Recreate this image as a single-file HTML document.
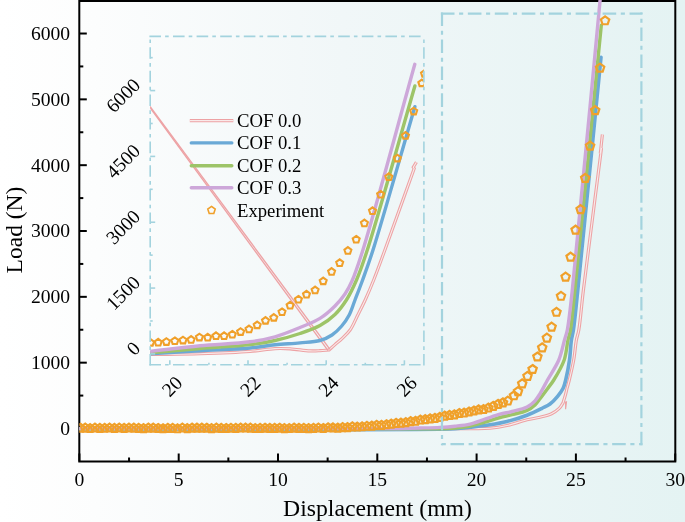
<!DOCTYPE html><html><head><meta charset="utf-8"><style>html,body{margin:0;padding:0;background:#fff;}svg{display:block;will-change:transform;}text{font-family:"Liberation Serif",serif;fill:#000;}</style></head><body>
<svg width="685" height="522" viewBox="0 0 685 522">
<defs>
<linearGradient id="bg" x1="0" y1="0" x2="685" y2="0" gradientUnits="userSpaceOnUse">
<stop offset="0" stop-color="#ffffff"/><stop offset="0.14" stop-color="#fcfdfd"/><stop offset="0.5" stop-color="#f1f7f8"/><stop offset="1" stop-color="#e4f3f3"/>
</linearGradient>
<clipPath id="clipInset"><rect x="150.2" y="36.4" width="273.7" height="328.2"/></clipPath>
<clipPath id="clipMain"><rect x="79.3" y="0" width="595.8" height="461.5"/></clipPath>
</defs>
<rect x="0" y="0" width="685" height="522" fill="url(#bg)"/>
<g stroke="#000" stroke-width="2" fill="none">
<rect x="79.30" y="1.00" width="596.00" height="460.50"/>
<line x1="79.30" y1="428.50" x2="86.80" y2="428.50"/>
<line x1="79.30" y1="395.58" x2="83.30" y2="395.58"/>
<line x1="79.30" y1="362.67" x2="86.80" y2="362.67"/>
<line x1="79.30" y1="329.75" x2="83.30" y2="329.75"/>
<line x1="79.30" y1="296.84" x2="86.80" y2="296.84"/>
<line x1="79.30" y1="263.93" x2="83.30" y2="263.93"/>
<line x1="79.30" y1="231.01" x2="86.80" y2="231.01"/>
<line x1="79.30" y1="198.09" x2="83.30" y2="198.09"/>
<line x1="79.30" y1="165.18" x2="86.80" y2="165.18"/>
<line x1="79.30" y1="132.26" x2="83.30" y2="132.26"/>
<line x1="79.30" y1="99.35" x2="86.80" y2="99.35"/>
<line x1="79.30" y1="66.44" x2="83.30" y2="66.44"/>
<line x1="79.30" y1="33.52" x2="86.80" y2="33.52"/>
<line x1="79.30" y1="0.61" x2="83.30" y2="0.61"/>
<line x1="79.40" y1="461.50" x2="79.40" y2="453.50"/>
<line x1="129.05" y1="461.50" x2="129.05" y2="457.50"/>
<line x1="178.70" y1="461.50" x2="178.70" y2="453.50"/>
<line x1="228.35" y1="461.50" x2="228.35" y2="457.50"/>
<line x1="278.00" y1="461.50" x2="278.00" y2="453.50"/>
<line x1="327.65" y1="461.50" x2="327.65" y2="457.50"/>
<line x1="377.30" y1="461.50" x2="377.30" y2="453.50"/>
<line x1="426.95" y1="461.50" x2="426.95" y2="457.50"/>
<line x1="476.60" y1="461.50" x2="476.60" y2="453.50"/>
<line x1="526.25" y1="461.50" x2="526.25" y2="457.50"/>
<line x1="575.90" y1="461.50" x2="575.90" y2="453.50"/>
<line x1="625.55" y1="461.50" x2="625.55" y2="457.50"/>
<line x1="675.20" y1="461.50" x2="675.20" y2="453.50"/>
</g>
<g clip-path="url(#clipMain)">
<path d="M79.40,429.00 C209.60,428.90 421.95,429.32 470.00,428.70 C480.87,428.56 483.62,428.78 490.00,428.20 C495.92,427.66 501.14,426.79 507.00,425.50 C513.44,424.08 521.02,421.25 527.00,419.80 C531.77,418.64 535.82,418.25 540.00,417.20 C543.98,416.20 548.16,415.31 551.50,413.70 C554.45,412.28 557.21,410.37 559.20,408.40 C560.87,406.74 561.73,404.80 563.00,403.00 L563.00,403.00 C563.77,400.43 564.60,397.87 565.30,395.30 C565.99,392.77 566.54,390.24 567.20,387.70 C567.87,385.14 568.52,383.18 569.30,380.00 C570.55,374.91 572.51,366.69 573.70,360.00 C574.88,353.36 575.37,345.50 576.40,340.00 C577.13,336.07 578.01,334.48 578.80,330.00 C580.37,321.14 581.29,307.41 583.40,290.00 C587.38,257.17 595.47,195.33 601.50,148.00 L600.3,153.5 L602.4,134.5" fill="none" stroke="#eda2a4" stroke-width="3.20" stroke-linejoin="miter" stroke-miterlimit="3"/><path d="M79.40,429.00 C209.60,428.90 421.95,429.32 470.00,428.70 C480.87,428.56 483.62,428.78 490.00,428.20 C495.92,427.66 501.14,426.79 507.00,425.50 C513.44,424.08 521.02,421.25 527.00,419.80 C531.77,418.64 535.82,418.25 540.00,417.20 C543.98,416.20 548.16,415.31 551.50,413.70 C554.45,412.28 557.21,410.37 559.20,408.40 C560.87,406.74 561.73,404.80 563.00,403.00 L563.00,403.00 C563.77,400.43 564.60,397.87 565.30,395.30 C565.99,392.77 566.54,390.24 567.20,387.70 C567.87,385.14 568.52,383.18 569.30,380.00 C570.55,374.91 572.51,366.69 573.70,360.00 C574.88,353.36 575.37,345.50 576.40,340.00 C577.13,336.07 578.01,334.48 578.80,330.00 C580.37,321.14 581.29,307.41 583.40,290.00 C587.38,257.17 595.47,195.33 601.50,148.00 L600.3,153.5 L602.4,134.5" fill="none" stroke="#f9eaea" stroke-width="1.10" stroke-linejoin="miter" stroke-miterlimit="3"/>
<path d="M79.40,428.80 C204.60,428.80 413.31,430.88 455.00,428.80 C463.35,428.38 464.64,427.90 470.00,427.30 C476.19,426.60 483.62,425.82 490.00,424.80 C495.91,423.86 501.15,422.98 507.00,421.50 C513.44,419.87 520.88,417.56 527.00,415.20 C532.43,413.11 537.81,410.39 542.00,408.30 C545.11,406.75 547.50,405.87 550.00,404.00 C552.73,401.96 555.38,398.98 557.60,396.30 C559.68,393.80 561.64,391.26 563.00,388.50 C564.32,385.82 564.82,383.46 565.70,380.00 C567.02,374.77 568.55,366.69 569.50,360.00 C570.44,353.36 570.59,345.51 571.40,340.00 C571.98,336.08 572.71,334.46 573.40,330.00 C574.77,321.13 575.82,308.86 577.80,290.00 C582.57,244.55 593.27,134.93 601.00,57.40" fill="none" stroke="#6aa9d6" stroke-width="3.6" stroke-linecap="round"/>
<path d="M79.40,428.70 C199.60,428.70 399.28,429.65 440.00,428.70 C448.31,428.51 450.01,428.43 455.00,428.00 C460.01,427.57 465.03,427.09 470.00,426.10 C475.04,425.10 480.01,423.43 485.00,422.00 C490.01,420.56 495.26,418.76 500.00,417.50 C504.20,416.38 507.79,415.79 512.00,414.70 C516.74,413.47 522.91,412.33 527.00,410.40 C530.23,408.88 532.75,407.00 535.00,404.90 C537.09,402.96 538.33,400.82 540.20,398.40 C542.49,395.44 545.34,391.60 547.70,388.40 C549.85,385.49 551.64,383.50 553.80,380.00 C556.99,374.85 561.83,366.85 564.20,360.00 C566.45,353.49 566.79,345.51 568.00,340.00 C568.86,336.08 569.70,334.48 570.50,330.00 C572.09,321.15 572.89,309.21 574.90,290.00 C580.08,240.61 592.50,113.53 601.30,25.30" fill="none" stroke="#9dc468" stroke-width="3.4" stroke-linecap="round"/>
<path d="M79.40,428.50 C179.60,428.53 326.44,428.99 380.00,428.60 C399.54,428.46 408.96,428.25 420.00,428.00 C427.81,427.82 433.82,427.74 440.00,427.40 C445.36,427.11 450.01,426.75 455.00,426.20 C460.01,425.65 465.05,425.25 470.00,424.10 C475.05,422.93 480.00,420.85 485.00,419.20 C490.00,417.55 495.25,415.52 500.00,414.20 C504.19,413.03 507.80,412.60 512.00,411.50 C516.74,410.26 522.93,409.09 527.00,407.00 C530.27,405.32 532.76,403.15 535.00,400.80 C537.12,398.58 538.41,396.29 540.20,393.40 C542.53,389.65 544.78,384.90 547.50,380.00 C550.84,373.99 555.94,366.84 558.80,360.00 C561.52,353.49 562.94,345.52 564.50,340.00 C565.60,336.10 566.40,334.49 567.30,330.00 C569.08,321.15 570.15,309.47 572.30,290.00 C578.08,237.67 590.83,96.67 600.10,0.00" fill="none" stroke="#cda7d9" stroke-width="3.4" stroke-linecap="round"/>
<polygon points="80.40,423.76 84.58,426.80 82.99,431.72 77.81,431.72 76.22,426.80" fill="none" stroke="#f0a02a" stroke-width="2.2" stroke-linejoin="miter"/>
<polygon points="85.26,423.62 89.44,426.66 87.84,431.58 82.67,431.58 81.07,426.66" fill="none" stroke="#f0a02a" stroke-width="2.2" stroke-linejoin="miter"/>
<polygon points="90.11,424.02 94.30,427.06 92.70,431.98 87.53,431.98 85.93,427.06" fill="none" stroke="#f0a02a" stroke-width="2.2" stroke-linejoin="miter"/>
<polygon points="94.97,423.56 99.16,426.60 97.56,431.52 92.38,431.52 90.79,426.60" fill="none" stroke="#f0a02a" stroke-width="2.2" stroke-linejoin="miter"/>
<polygon points="99.83,423.93 104.01,426.97 102.41,431.89 97.24,431.89 95.64,426.97" fill="none" stroke="#f0a02a" stroke-width="2.2" stroke-linejoin="miter"/>
<polygon points="104.69,423.79 108.87,426.83 107.27,431.75 102.10,431.75 100.50,426.83" fill="none" stroke="#f0a02a" stroke-width="2.2" stroke-linejoin="miter"/>
<polygon points="109.54,423.55 113.73,426.59 112.13,431.51 106.96,431.51 105.36,426.59" fill="none" stroke="#f0a02a" stroke-width="2.2" stroke-linejoin="miter"/>
<polygon points="114.40,423.91 118.58,426.95 116.99,431.87 111.81,431.87 110.21,426.95" fill="none" stroke="#f0a02a" stroke-width="2.2" stroke-linejoin="miter"/>
<polygon points="119.26,423.53 123.44,426.57 121.84,431.49 116.67,431.49 115.07,426.57" fill="none" stroke="#f0a02a" stroke-width="2.2" stroke-linejoin="miter"/>
<polygon points="124.11,423.85 128.30,426.89 126.70,431.81 121.53,431.81 119.93,426.89" fill="none" stroke="#f0a02a" stroke-width="2.2" stroke-linejoin="miter"/>
<polygon points="128.97,423.56 133.15,426.60 131.56,431.52 126.38,431.52 124.79,426.60" fill="none" stroke="#f0a02a" stroke-width="2.2" stroke-linejoin="miter"/>
<polygon points="133.83,423.57 138.01,426.61 136.41,431.53 131.24,431.53 129.64,426.61" fill="none" stroke="#f0a02a" stroke-width="2.2" stroke-linejoin="miter"/>
<polygon points="138.68,423.84 142.87,426.88 141.27,431.80 136.10,431.80 134.50,426.88" fill="none" stroke="#f0a02a" stroke-width="2.2" stroke-linejoin="miter"/>
<polygon points="143.54,424.16 147.73,427.20 146.13,432.12 140.95,432.12 139.36,427.20" fill="none" stroke="#f0a02a" stroke-width="2.2" stroke-linejoin="miter"/>
<polygon points="148.40,423.60 152.58,426.64 150.98,431.56 145.81,431.56 144.21,426.64" fill="none" stroke="#f0a02a" stroke-width="2.2" stroke-linejoin="miter"/>
<polygon points="153.25,423.68 157.44,426.72 155.84,431.64 150.67,431.64 149.07,426.72" fill="none" stroke="#f0a02a" stroke-width="2.2" stroke-linejoin="miter"/>
<polygon points="158.11,424.00 162.30,427.04 160.70,431.96 155.53,431.96 153.93,427.04" fill="none" stroke="#f0a02a" stroke-width="2.2" stroke-linejoin="miter"/>
<polygon points="162.97,424.26 167.15,427.30 165.56,432.22 160.38,432.22 158.78,427.30" fill="none" stroke="#f0a02a" stroke-width="2.2" stroke-linejoin="miter"/>
<polygon points="167.83,423.96 172.01,427.00 170.41,431.92 165.24,431.92 163.64,427.00" fill="none" stroke="#f0a02a" stroke-width="2.2" stroke-linejoin="miter"/>
<polygon points="172.68,423.82 176.87,426.86 175.27,431.78 170.10,431.78 168.50,426.86" fill="none" stroke="#f0a02a" stroke-width="2.2" stroke-linejoin="miter"/>
<polygon points="177.54,424.28 181.72,427.32 180.13,432.24 174.95,432.24 173.36,427.32" fill="none" stroke="#f0a02a" stroke-width="2.2" stroke-linejoin="miter"/>
<polygon points="182.40,423.54 186.58,426.58 184.98,431.50 179.81,431.50 178.21,426.58" fill="none" stroke="#f0a02a" stroke-width="2.2" stroke-linejoin="miter"/>
<polygon points="187.25,424.19 191.44,427.23 189.84,432.15 184.67,432.15 183.07,427.23" fill="none" stroke="#f0a02a" stroke-width="2.2" stroke-linejoin="miter"/>
<polygon points="192.11,423.73 196.30,426.77 194.70,431.69 189.52,431.69 187.93,426.77" fill="none" stroke="#f0a02a" stroke-width="2.2" stroke-linejoin="miter"/>
<polygon points="196.97,423.62 201.15,426.66 199.55,431.58 194.38,431.58 192.78,426.66" fill="none" stroke="#f0a02a" stroke-width="2.2" stroke-linejoin="miter"/>
<polygon points="201.83,423.59 206.01,426.63 204.41,431.55 199.24,431.55 197.64,426.63" fill="none" stroke="#f0a02a" stroke-width="2.2" stroke-linejoin="miter"/>
<polygon points="206.68,423.75 210.87,426.79 209.27,431.71 204.10,431.71 202.50,426.79" fill="none" stroke="#f0a02a" stroke-width="2.2" stroke-linejoin="miter"/>
<polygon points="211.54,424.15 215.72,427.19 214.13,432.11 208.95,432.11 207.35,427.19" fill="none" stroke="#f0a02a" stroke-width="2.2" stroke-linejoin="miter"/>
<polygon points="216.40,423.64 220.58,426.68 218.98,431.60 213.81,431.60 212.21,426.68" fill="none" stroke="#f0a02a" stroke-width="2.2" stroke-linejoin="miter"/>
<polygon points="221.25,423.97 225.44,427.01 223.84,431.92 218.67,431.92 217.07,427.01" fill="none" stroke="#f0a02a" stroke-width="2.2" stroke-linejoin="miter"/>
<polygon points="226.11,424.01 230.29,427.05 228.70,431.97 223.52,431.97 221.93,427.05" fill="none" stroke="#f0a02a" stroke-width="2.2" stroke-linejoin="miter"/>
<polygon points="230.97,423.80 235.15,426.84 233.55,431.76 228.38,431.76 226.78,426.84" fill="none" stroke="#f0a02a" stroke-width="2.2" stroke-linejoin="miter"/>
<polygon points="235.82,423.94 240.01,426.98 238.41,431.90 233.24,431.90 231.64,426.98" fill="none" stroke="#f0a02a" stroke-width="2.2" stroke-linejoin="miter"/>
<polygon points="240.68,423.55 244.87,426.59 243.27,431.51 238.09,431.51 236.50,426.59" fill="none" stroke="#f0a02a" stroke-width="2.2" stroke-linejoin="miter"/>
<polygon points="245.54,423.55 249.72,426.59 248.12,431.51 242.95,431.51 241.35,426.59" fill="none" stroke="#f0a02a" stroke-width="2.2" stroke-linejoin="miter"/>
<polygon points="250.40,423.66 254.58,426.71 252.98,431.62 247.81,431.62 246.21,426.71" fill="none" stroke="#f0a02a" stroke-width="2.2" stroke-linejoin="miter"/>
<polygon points="255.25,424.04 259.44,427.08 257.84,432.00 252.67,432.00 251.07,427.08" fill="none" stroke="#f0a02a" stroke-width="2.2" stroke-linejoin="miter"/>
<polygon points="260.11,423.84 264.29,426.88 262.70,431.80 257.52,431.80 255.92,426.88" fill="none" stroke="#f0a02a" stroke-width="2.2" stroke-linejoin="miter"/>
<polygon points="264.97,423.75 269.15,426.79 267.55,431.71 262.38,431.71 260.78,426.79" fill="none" stroke="#f0a02a" stroke-width="2.2" stroke-linejoin="miter"/>
<polygon points="269.82,423.97 274.01,427.01 272.41,431.93 267.24,431.93 265.64,427.01" fill="none" stroke="#f0a02a" stroke-width="2.2" stroke-linejoin="miter"/>
<polygon points="274.68,423.86 278.86,426.90 277.27,431.82 272.09,431.82 270.50,426.90" fill="none" stroke="#f0a02a" stroke-width="2.2" stroke-linejoin="miter"/>
<polygon points="279.54,423.74 283.72,426.78 282.12,431.70 276.95,431.70 275.35,426.78" fill="none" stroke="#f0a02a" stroke-width="2.2" stroke-linejoin="miter"/>
<polygon points="284.39,424.14 288.58,427.18 286.98,432.10 281.81,432.10 280.21,427.18" fill="none" stroke="#f0a02a" stroke-width="2.2" stroke-linejoin="miter"/>
<polygon points="289.25,424.06 293.44,427.10 291.84,432.02 286.66,432.02 285.07,427.10" fill="none" stroke="#f0a02a" stroke-width="2.2" stroke-linejoin="miter"/>
<polygon points="294.11,423.70 298.29,426.74 296.69,431.65 291.52,431.65 289.92,426.74" fill="none" stroke="#f0a02a" stroke-width="2.2" stroke-linejoin="miter"/>
<polygon points="298.97,423.96 303.15,427.00 301.55,431.92 296.38,431.92 294.78,427.00" fill="none" stroke="#f0a02a" stroke-width="2.2" stroke-linejoin="miter"/>
<polygon points="303.82,423.88 308.01,426.92 306.41,431.84 301.24,431.84 299.64,426.92" fill="none" stroke="#f0a02a" stroke-width="2.2" stroke-linejoin="miter"/>
<polygon points="308.68,424.10 312.86,427.14 311.27,432.06 306.09,432.06 304.49,427.14" fill="none" stroke="#f0a02a" stroke-width="2.2" stroke-linejoin="miter"/>
<polygon points="313.54,423.93 317.72,426.97 316.12,431.89 310.95,431.89 309.35,426.97" fill="none" stroke="#f0a02a" stroke-width="2.2" stroke-linejoin="miter"/>
<polygon points="318.39,423.52 322.58,426.56 320.98,431.48 315.81,431.48 314.21,426.56" fill="none" stroke="#f0a02a" stroke-width="2.2" stroke-linejoin="miter"/>
<polygon points="323.25,424.01 327.43,427.05 325.84,431.97 320.66,431.97 319.07,427.05" fill="none" stroke="#f0a02a" stroke-width="2.2" stroke-linejoin="miter"/>
<polygon points="328.11,423.27 332.29,426.31 330.69,431.23 325.52,431.23 323.92,426.31" fill="none" stroke="#f0a02a" stroke-width="2.2" stroke-linejoin="miter"/>
<polygon points="332.96,423.45 337.15,426.49 335.55,431.41 330.38,431.41 328.78,426.49" fill="none" stroke="#f0a02a" stroke-width="2.2" stroke-linejoin="miter"/>
<polygon points="337.82,423.67 342.01,426.71 340.41,431.63 335.23,431.63 333.64,426.71" fill="none" stroke="#f0a02a" stroke-width="2.2" stroke-linejoin="miter"/>
<polygon points="342.68,423.13 346.86,426.17 345.26,431.09 340.09,431.09 338.49,426.17" fill="none" stroke="#f0a02a" stroke-width="2.2" stroke-linejoin="miter"/>
<polygon points="347.53,423.07 351.72,426.11 350.12,431.03 344.95,431.03 343.35,426.11" fill="none" stroke="#f0a02a" stroke-width="2.2" stroke-linejoin="miter"/>
<polygon points="352.39,422.37 356.58,425.41 354.98,430.33 349.81,430.33 348.21,425.41" fill="none" stroke="#f0a02a" stroke-width="2.2" stroke-linejoin="miter"/>
<polygon points="357.25,422.54 361.43,425.58 359.84,430.50 354.66,430.50 353.06,425.58" fill="none" stroke="#f0a02a" stroke-width="2.2" stroke-linejoin="miter"/>
<polygon points="362.11,422.27 366.29,425.31 364.69,430.23 359.52,430.23 357.92,425.31" fill="none" stroke="#f0a02a" stroke-width="2.2" stroke-linejoin="miter"/>
<polygon points="366.96,421.78 371.15,424.82 369.55,429.74 364.38,429.74 362.78,424.82" fill="none" stroke="#f0a02a" stroke-width="2.2" stroke-linejoin="miter"/>
<polygon points="371.82,421.68 376.00,424.72 374.41,429.64 369.23,429.64 367.64,424.72" fill="none" stroke="#f0a02a" stroke-width="2.2" stroke-linejoin="miter"/>
<polygon points="376.68,420.89 380.86,423.93 379.26,428.85 374.09,428.85 372.49,423.93" fill="none" stroke="#f0a02a" stroke-width="2.2" stroke-linejoin="miter"/>
<polygon points="381.53,420.86 385.72,423.90 384.12,428.82 378.95,428.82 377.35,423.90" fill="none" stroke="#f0a02a" stroke-width="2.2" stroke-linejoin="miter"/>
<polygon points="386.39,420.26 390.58,423.30 388.98,428.22 383.80,428.22 382.21,423.30" fill="none" stroke="#f0a02a" stroke-width="2.2" stroke-linejoin="miter"/>
<polygon points="391.25,419.66 395.43,422.70 393.83,427.62 388.66,427.62 387.06,422.70" fill="none" stroke="#f0a02a" stroke-width="2.2" stroke-linejoin="miter"/>
<polygon points="396.11,418.98 400.29,422.02 398.69,426.94 393.52,426.94 391.92,422.02" fill="none" stroke="#f0a02a" stroke-width="2.2" stroke-linejoin="miter"/>
<polygon points="400.96,418.69 405.15,421.74 403.55,426.65 398.38,426.65 396.78,421.74" fill="none" stroke="#f0a02a" stroke-width="2.2" stroke-linejoin="miter"/>
<polygon points="405.82,418.19 410.00,421.23 408.41,426.15 403.23,426.15 401.63,421.23" fill="none" stroke="#f0a02a" stroke-width="2.2" stroke-linejoin="miter"/>
<polygon points="410.68,417.22 414.86,420.26 413.26,425.18 408.09,425.18 406.49,420.26" fill="none" stroke="#f0a02a" stroke-width="2.2" stroke-linejoin="miter"/>
<polygon points="415.53,416.79 419.72,419.83 418.12,424.75 412.95,424.75 411.35,419.83" fill="none" stroke="#f0a02a" stroke-width="2.2" stroke-linejoin="miter"/>
<polygon points="420.39,415.52 424.57,418.56 422.98,423.48 417.80,423.48 416.21,418.56" fill="none" stroke="#f0a02a" stroke-width="2.2" stroke-linejoin="miter"/>
<polygon points="425.25,415.22 429.43,418.26 427.83,423.18 422.66,423.18 421.06,418.26" fill="none" stroke="#f0a02a" stroke-width="2.2" stroke-linejoin="miter"/>
<polygon points="430.10,414.37 434.29,417.41 432.69,422.33 427.52,422.33 425.92,417.41" fill="none" stroke="#f0a02a" stroke-width="2.2" stroke-linejoin="miter"/>
<polygon points="434.96,413.83 439.15,416.87 437.55,421.79 432.37,421.79 430.78,416.87" fill="none" stroke="#f0a02a" stroke-width="2.2" stroke-linejoin="miter"/>
<polygon points="439.82,412.89 444.00,415.93 442.40,420.85 437.23,420.85 435.63,415.93" fill="none" stroke="#f0a02a" stroke-width="2.2" stroke-linejoin="miter"/>
<polygon points="444.68,411.65 448.86,414.69 447.26,419.61 442.09,419.61 440.49,414.69" fill="none" stroke="#f0a02a" stroke-width="2.2" stroke-linejoin="miter"/>
<polygon points="449.53,410.92 453.72,413.96 452.12,418.88 446.95,418.88 445.35,413.96" fill="none" stroke="#f0a02a" stroke-width="2.2" stroke-linejoin="miter"/>
<polygon points="454.39,410.34 458.57,413.38 456.98,418.30 451.80,418.30 450.20,413.38" fill="none" stroke="#f0a02a" stroke-width="2.2" stroke-linejoin="miter"/>
<polygon points="459.25,409.01 463.43,412.05 461.83,416.97 456.66,416.97 455.06,412.05" fill="none" stroke="#f0a02a" stroke-width="2.2" stroke-linejoin="miter"/>
<polygon points="464.10,408.55 468.29,411.59 466.69,416.51 461.52,416.51 459.92,411.59" fill="none" stroke="#f0a02a" stroke-width="2.2" stroke-linejoin="miter"/>
<polygon points="468.96,407.51 473.14,410.55 471.55,415.47 466.37,415.47 464.78,410.55" fill="none" stroke="#f0a02a" stroke-width="2.2" stroke-linejoin="miter"/>
<polygon points="473.82,406.51 478.00,409.55 476.40,414.47 471.23,414.47 469.63,409.55" fill="none" stroke="#f0a02a" stroke-width="2.2" stroke-linejoin="miter"/>
<polygon points="478.67,405.47 482.86,408.51 481.26,413.43 476.09,413.43 474.49,408.51" fill="none" stroke="#f0a02a" stroke-width="2.2" stroke-linejoin="miter"/>
<polygon points="483.53,405.04 487.72,408.08 486.12,413.00 480.94,413.00 479.35,408.08" fill="none" stroke="#f0a02a" stroke-width="2.2" stroke-linejoin="miter"/>
<polygon points="488.39,403.53 492.57,406.57 490.97,411.49 485.80,411.49 484.20,406.57" fill="none" stroke="#f0a02a" stroke-width="2.2" stroke-linejoin="miter"/>
<polygon points="493.25,401.87 497.43,404.91 495.83,409.83 490.66,409.83 489.06,404.91" fill="none" stroke="#f0a02a" stroke-width="2.2" stroke-linejoin="miter"/>
<polygon points="498.10,399.85 502.29,402.89 500.69,407.81 495.52,407.81 493.92,402.89" fill="none" stroke="#f0a02a" stroke-width="2.2" stroke-linejoin="miter"/>
<polygon points="502.96,398.42 507.14,401.46 505.55,406.38 500.37,406.38 498.77,401.46" fill="none" stroke="#f0a02a" stroke-width="2.2" stroke-linejoin="miter"/>
<polygon points="507.82,396.52 512.00,399.56 510.40,404.48 505.23,404.48 503.63,399.56" fill="none" stroke="#f0a02a" stroke-width="2.2" stroke-linejoin="miter"/>
<polygon points="514.00,391.30 518.18,394.34 516.59,399.26 511.41,399.26 509.82,394.34" fill="none" stroke="#f0a02a" stroke-width="2.2" stroke-linejoin="miter"/>
<polygon points="518.00,387.10 522.18,390.14 520.59,395.06 515.41,395.06 513.82,390.14" fill="none" stroke="#f0a02a" stroke-width="2.2" stroke-linejoin="miter"/>
<polygon points="522.20,379.40 526.38,382.44 524.79,387.36 519.61,387.36 518.02,382.44" fill="none" stroke="#f0a02a" stroke-width="2.2" stroke-linejoin="miter"/>
<polygon points="527.50,371.90 531.68,374.94 530.09,379.86 524.91,379.86 523.32,374.94" fill="none" stroke="#f0a02a" stroke-width="2.2" stroke-linejoin="miter"/>
<polygon points="532.60,365.00 536.78,368.04 535.19,372.96 530.01,372.96 528.42,368.04" fill="none" stroke="#f0a02a" stroke-width="2.2" stroke-linejoin="miter"/>
<polygon points="537.40,352.50 541.58,355.54 539.99,360.46 534.81,360.46 533.22,355.54" fill="none" stroke="#f0a02a" stroke-width="2.2" stroke-linejoin="miter"/>
<polygon points="542.20,343.40 546.38,346.44 544.79,351.36 539.61,351.36 538.02,346.44" fill="none" stroke="#f0a02a" stroke-width="2.2" stroke-linejoin="miter"/>
<polygon points="546.90,333.60 551.08,336.64 549.49,341.56 544.31,341.56 542.72,336.64" fill="none" stroke="#f0a02a" stroke-width="2.2" stroke-linejoin="miter"/>
<polygon points="551.60,322.60 555.78,325.64 554.19,330.56 549.01,330.56 547.42,325.64" fill="none" stroke="#f0a02a" stroke-width="2.2" stroke-linejoin="miter"/>
<polygon points="556.50,307.80 560.68,310.84 559.09,315.76 553.91,315.76 552.32,310.84" fill="none" stroke="#f0a02a" stroke-width="2.2" stroke-linejoin="miter"/>
<polygon points="561.00,291.80 565.18,294.84 563.59,299.76 558.41,299.76 556.82,294.84" fill="none" stroke="#f0a02a" stroke-width="2.2" stroke-linejoin="miter"/>
<polygon points="565.60,272.60 569.78,275.64 568.19,280.56 563.01,280.56 561.42,275.64" fill="none" stroke="#f0a02a" stroke-width="2.2" stroke-linejoin="miter"/>
<polygon points="570.60,252.70 574.78,255.74 573.19,260.66 568.01,260.66 566.42,255.74" fill="none" stroke="#f0a02a" stroke-width="2.2" stroke-linejoin="miter"/>
<polygon points="575.60,225.70 579.78,228.74 578.19,233.66 573.01,233.66 571.42,228.74" fill="none" stroke="#f0a02a" stroke-width="2.2" stroke-linejoin="miter"/>
<polygon points="580.60,205.10 584.78,208.14 583.19,213.06 578.01,213.06 576.42,208.14" fill="none" stroke="#f0a02a" stroke-width="2.2" stroke-linejoin="miter"/>
<polygon points="585.20,173.90 589.38,176.94 587.79,181.86 582.61,181.86 581.02,176.94" fill="none" stroke="#f0a02a" stroke-width="2.2" stroke-linejoin="miter"/>
<polygon points="590.10,141.60 594.28,144.64 592.69,149.56 587.51,149.56 585.92,144.64" fill="none" stroke="#f0a02a" stroke-width="2.2" stroke-linejoin="miter"/>
<polygon points="595.20,106.10 599.38,109.14 597.79,114.06 592.61,114.06 591.02,109.14" fill="none" stroke="#f0a02a" stroke-width="2.2" stroke-linejoin="miter"/>
<polygon points="600.10,63.60 604.28,66.64 602.69,71.56 597.51,71.56 595.92,66.64" fill="none" stroke="#f0a02a" stroke-width="2.2" stroke-linejoin="miter"/>
<polygon points="605.10,16.30 609.28,19.34 607.69,24.26 602.51,24.26 600.92,19.34" fill="none" stroke="#f0a02a" stroke-width="2.2" stroke-linejoin="miter"/>
</g>
<path d="M565.6,401.5 L565.6,409.2 L566.6,401.2" fill="none" stroke="#eda2a4" stroke-width="1.1"/>
<line x1="440.90" y1="13.60" x2="642.50" y2="13.60" stroke="#a3d3de" stroke-width="2.20" stroke-dasharray="13.6 4.6 4.1 4.65" stroke-dashoffset="0.00"/>
<line x1="442.00" y1="12.50" x2="442.00" y2="445.30" stroke="#a3d3de" stroke-width="2.20" stroke-dasharray="13.6 4.6 4.1 4.65" stroke-dashoffset="0.00"/>
<line x1="641.40" y1="445.30" x2="641.40" y2="12.50" stroke="#a3d3de" stroke-width="2.20" stroke-dasharray="13.6 4.6 4.1 4.65" stroke-dashoffset="0.00"/>
<line x1="440.90" y1="444.20" x2="642.50" y2="444.20" stroke="#a3d3de" stroke-width="2.20" stroke-dasharray="13.6 4.6 4.1 4.65" stroke-dashoffset="17.40"/>
<g clip-path="url(#clipInset)">
<path d="M150.00,354.50 C166.67,354.23 183.34,354.22 200.00,353.70 C216.67,353.18 236.21,352.49 250.00,351.40 C259.78,350.63 267.72,348.96 275.00,348.60 C280.63,348.32 284.65,348.48 290.00,348.80 C296.20,349.17 304.47,350.67 310.00,350.90 C313.90,351.07 316.76,350.86 320.00,350.70 C323.08,350.55 326.00,350.23 329.00,350.00 L329.00,350.00 C331.00,348.20 332.91,346.43 335.00,344.60 C337.23,342.64 339.64,340.85 342.00,338.60 C344.67,336.05 347.65,333.47 350.10,330.00 C353.03,325.86 355.28,320.01 357.80,315.00 C360.31,310.01 362.72,305.40 365.20,300.00 C368.02,293.85 370.76,287.38 373.70,280.00 C377.27,271.05 380.33,262.47 384.90,250.00 C392.41,229.50 404.43,195.67 414.20,168.50 L413.3,167.2 L416.4,162.2" fill="none" stroke="#eda2a4" stroke-width="3.20" stroke-linejoin="miter" stroke-miterlimit="3"/><path d="M150.00,354.50 C166.67,354.23 183.34,354.22 200.00,353.70 C216.67,353.18 236.21,352.49 250.00,351.40 C259.78,350.63 267.72,348.96 275.00,348.60 C280.63,348.32 284.65,348.48 290.00,348.80 C296.20,349.17 304.47,350.67 310.00,350.90 C313.90,351.07 316.76,350.86 320.00,350.70 C323.08,350.55 326.00,350.23 329.00,350.00 L329.00,350.00 C331.00,348.20 332.91,346.43 335.00,344.60 C337.23,342.64 339.64,340.85 342.00,338.60 C344.67,336.05 347.65,333.47 350.10,330.00 C353.03,325.86 355.28,320.01 357.80,315.00 C360.31,310.01 362.72,305.40 365.20,300.00 C368.02,293.85 370.76,287.38 373.70,280.00 C377.27,271.05 380.33,262.47 384.90,250.00 C392.41,229.50 404.43,195.67 414.20,168.50 L413.3,167.2 L416.4,162.2" fill="none" stroke="#f9eaea" stroke-width="1.10" stroke-linejoin="miter" stroke-miterlimit="3"/>
<line x1="137.90" y1="91.08" x2="328.03" y2="350.71" stroke="#eda2a4" stroke-width="1.35"/>
<line x1="138.38" y1="90.72" x2="329.97" y2="349.29" stroke="#eda2a4" stroke-width="1.35"/>
<path d="M150.00,353.80 C166.67,352.80 183.33,351.77 200.00,350.80 C216.67,349.83 236.21,349.27 250.00,348.00 C259.78,347.10 266.66,345.65 275.00,344.80 C283.32,343.95 292.14,343.67 300.00,342.90 C307.05,342.21 314.29,342.11 320.00,340.50 C324.62,339.20 328.39,337.41 332.00,335.00 C335.62,332.58 338.84,329.33 341.70,326.00 C344.57,322.66 347.05,319.09 349.20,315.00 C351.56,310.51 352.94,305.36 355.00,300.00 C357.37,293.82 359.93,287.36 362.60,280.00 C365.86,271.03 368.59,263.80 373.00,250.00 C382.55,220.08 400.93,154.47 414.90,106.70" fill="none" stroke="#6aa9d6" stroke-width="3.4" stroke-linecap="round"/>
<path d="M150.00,352.90 C166.67,351.43 183.33,349.88 200.00,348.50 C216.66,347.12 236.22,346.26 250.00,344.60 C259.79,343.42 266.72,342.33 275.00,340.50 C283.38,338.64 292.20,336.14 300.00,333.50 C307.11,331.09 314.00,328.83 320.00,325.50 C325.58,322.41 330.59,318.76 335.00,314.50 C339.39,310.26 342.95,305.41 346.40,300.00 C350.20,294.04 353.29,287.45 356.50,280.00 C360.33,271.11 362.72,264.11 367.30,250.00 C377.90,217.35 399.03,140.67 414.90,86.00" fill="none" stroke="#9dc468" stroke-width="3.4" stroke-linecap="round"/>
<path d="M150.00,351.40 C166.67,349.53 183.32,347.40 200.00,345.80 C216.65,344.20 236.24,343.72 250.00,341.80 C259.81,340.43 266.76,339.14 275.00,336.80 C283.43,334.41 292.18,330.73 300.00,327.50 C307.09,324.57 314.03,322.13 320.00,318.40 C325.62,314.89 330.67,310.31 335.00,306.00 C338.87,302.14 342.14,298.23 345.00,294.00 C347.78,289.89 349.63,286.37 352.00,281.00 C355.54,272.98 358.24,264.78 362.90,250.00 C374.18,214.20 397.50,126.20 414.80,64.30" fill="none" stroke="#cda7d9" stroke-width="3.4" stroke-linecap="round"/>
<polygon points="150.50,339.05 153.97,341.57 152.65,345.65 148.35,345.65 147.03,341.57" fill="none" stroke="#f0a02a" stroke-width="2.1"/>
<polygon points="158.20,338.85 161.67,341.37 160.35,345.45 156.05,345.45 154.73,341.37" fill="none" stroke="#f0a02a" stroke-width="2.1"/>
<polygon points="166.40,338.25 169.87,340.77 168.55,344.85 164.25,344.85 162.93,340.77" fill="none" stroke="#f0a02a" stroke-width="2.1"/>
<polygon points="174.80,337.45 178.27,339.97 176.95,344.05 172.65,344.05 171.33,339.97" fill="none" stroke="#f0a02a" stroke-width="2.1"/>
<polygon points="183.00,336.75 186.47,339.27 185.15,343.35 180.85,343.35 179.53,339.27" fill="none" stroke="#f0a02a" stroke-width="2.1"/>
<polygon points="191.10,336.15 194.57,338.67 193.25,342.75 188.95,342.75 187.63,338.67" fill="none" stroke="#f0a02a" stroke-width="2.1"/>
<polygon points="199.40,333.75 202.87,336.27 201.55,340.35 197.25,340.35 195.93,336.27" fill="none" stroke="#f0a02a" stroke-width="2.1"/>
<polygon points="207.70,333.85 211.17,336.37 209.85,340.45 205.55,340.45 204.23,336.37" fill="none" stroke="#f0a02a" stroke-width="2.1"/>
<polygon points="216.00,332.35 219.47,334.87 218.15,338.95 213.85,338.95 212.53,334.87" fill="none" stroke="#f0a02a" stroke-width="2.1"/>
<polygon points="224.10,332.35 227.57,334.87 226.25,338.95 221.95,338.95 220.63,334.87" fill="none" stroke="#f0a02a" stroke-width="2.1"/>
<polygon points="232.30,330.95 235.77,333.47 234.45,337.55 230.15,337.55 228.83,333.47" fill="none" stroke="#f0a02a" stroke-width="2.1"/>
<polygon points="240.60,328.25 244.07,330.77 242.75,334.85 238.45,334.85 237.13,330.77" fill="none" stroke="#f0a02a" stroke-width="2.1"/>
<polygon points="249.00,325.65 252.47,328.17 251.15,332.25 246.85,332.25 245.53,328.17" fill="none" stroke="#f0a02a" stroke-width="2.1"/>
<polygon points="257.20,321.55 260.67,324.07 259.35,328.15 255.05,328.15 253.73,324.07" fill="none" stroke="#f0a02a" stroke-width="2.1"/>
<polygon points="265.50,317.05 268.97,319.57 267.65,323.65 263.35,323.65 262.03,319.57" fill="none" stroke="#f0a02a" stroke-width="2.1"/>
<polygon points="273.80,314.05 277.27,316.57 275.95,320.65 271.65,320.65 270.33,316.57" fill="none" stroke="#f0a02a" stroke-width="2.1"/>
<polygon points="282.00,308.45 285.47,310.97 284.15,315.05 279.85,315.05 278.53,310.97" fill="none" stroke="#f0a02a" stroke-width="2.1"/>
<polygon points="290.10,301.85 293.57,304.37 292.25,308.45 287.95,308.45 286.63,304.37" fill="none" stroke="#f0a02a" stroke-width="2.1"/>
<polygon points="298.40,295.95 301.87,298.47 300.55,302.55 296.25,302.55 294.93,298.47" fill="none" stroke="#f0a02a" stroke-width="2.1"/>
<polygon points="306.50,290.85 309.97,293.37 308.65,297.45 304.35,297.45 303.03,293.37" fill="none" stroke="#f0a02a" stroke-width="2.1"/>
<polygon points="315.10,286.65 318.57,289.17 317.25,293.25 312.95,293.25 311.63,289.17" fill="none" stroke="#f0a02a" stroke-width="2.1"/>
<polygon points="323.20,277.55 326.67,280.07 325.35,284.15 321.05,284.15 319.73,280.07" fill="none" stroke="#f0a02a" stroke-width="2.1"/>
<polygon points="331.60,268.15 335.07,270.67 333.75,274.75 329.45,274.75 328.13,270.67" fill="none" stroke="#f0a02a" stroke-width="2.1"/>
<polygon points="339.70,259.35 343.17,261.87 341.85,265.95 337.55,265.95 336.23,261.87" fill="none" stroke="#f0a02a" stroke-width="2.1"/>
<polygon points="347.90,247.15 351.37,249.67 350.05,253.75 345.75,253.75 344.43,249.67" fill="none" stroke="#f0a02a" stroke-width="2.1"/>
<polygon points="356.20,235.95 359.67,238.47 358.35,242.55 354.05,242.55 352.73,238.47" fill="none" stroke="#f0a02a" stroke-width="2.1"/>
<polygon points="364.40,219.65 367.87,222.17 366.55,226.25 362.25,226.25 360.93,222.17" fill="none" stroke="#f0a02a" stroke-width="2.1"/>
<polygon points="372.50,207.35 375.97,209.87 374.65,213.95 370.35,213.95 369.03,209.87" fill="none" stroke="#f0a02a" stroke-width="2.1"/>
<polygon points="380.60,190.95 384.07,193.47 382.75,197.55 378.45,197.55 377.13,193.47" fill="none" stroke="#f0a02a" stroke-width="2.1"/>
<polygon points="388.80,173.35 392.27,175.87 390.95,179.95 386.65,179.95 385.33,175.87" fill="none" stroke="#f0a02a" stroke-width="2.1"/>
<polygon points="397.40,154.75 400.87,157.27 399.55,161.35 395.25,161.35 393.93,157.27" fill="none" stroke="#f0a02a" stroke-width="2.1"/>
<polygon points="405.50,132.05 408.97,134.57 407.65,138.65 403.35,138.65 402.03,134.57" fill="none" stroke="#f0a02a" stroke-width="2.1"/>
<polygon points="413.70,107.75 417.17,110.27 415.85,114.35 411.55,114.35 410.23,110.27" fill="none" stroke="#f0a02a" stroke-width="2.1"/>
<polygon points="421.80,79.55 425.27,82.07 423.95,86.15 419.65,86.15 418.33,82.07" fill="none" stroke="#f0a02a" stroke-width="2.1"/>
<polygon points="424.50,70.15 427.97,72.67 426.65,76.75 422.35,76.75 421.03,72.67" fill="none" stroke="#f0a02a" stroke-width="2.1"/>
</g>
<line x1="149.40" y1="36.40" x2="424.70" y2="36.40" stroke="#a3d3de" stroke-width="1.60" stroke-dasharray="11.6 4.1 3.6 4.3" stroke-dashoffset="0.00"/>
<line x1="149.40" y1="364.80" x2="424.70" y2="364.80" stroke="#a3d3de" stroke-width="1.60" stroke-dasharray="11.6 4.1 3.6 4.3" stroke-dashoffset="0.00"/>
<line x1="150.20" y1="365.60" x2="150.20" y2="35.60" stroke="#a3d3de" stroke-width="1.60" stroke-dasharray="11.6 4.1 3.6 4.3" stroke-dashoffset="0.00"/>
<line x1="423.90" y1="365.60" x2="423.90" y2="35.60" stroke="#a3d3de" stroke-width="1.60" stroke-dasharray="11.6 4.1 3.6 4.3" stroke-dashoffset="0.00"/>
<line x1="150.2" y1="353.90" x2="155.20" y2="353.90" stroke="#a3d3de" stroke-width="1.6"/>
<line x1="150.2" y1="320.98" x2="152.70" y2="320.98" stroke="#a3d3de" stroke-width="1.6"/>
<line x1="150.2" y1="288.07" x2="155.20" y2="288.07" stroke="#a3d3de" stroke-width="1.6"/>
<line x1="150.2" y1="255.15" x2="152.70" y2="255.15" stroke="#a3d3de" stroke-width="1.6"/>
<line x1="150.2" y1="222.24" x2="155.20" y2="222.24" stroke="#a3d3de" stroke-width="1.6"/>
<line x1="150.2" y1="189.32" x2="152.70" y2="189.32" stroke="#a3d3de" stroke-width="1.6"/>
<line x1="150.2" y1="156.41" x2="155.20" y2="156.41" stroke="#a3d3de" stroke-width="1.6"/>
<line x1="150.2" y1="123.49" x2="152.70" y2="123.49" stroke="#a3d3de" stroke-width="1.6"/>
<line x1="150.2" y1="90.58" x2="155.20" y2="90.58" stroke="#a3d3de" stroke-width="1.6"/>
<line x1="150.2" y1="57.66" x2="152.70" y2="57.66" stroke="#a3d3de" stroke-width="1.6"/>
<line x1="169.80" y1="364.8" x2="169.80" y2="360.30" stroke="#a3d3de" stroke-width="1.6"/>
<line x1="208.90" y1="364.8" x2="208.90" y2="362.80" stroke="#a3d3de" stroke-width="1.6"/>
<line x1="248.00" y1="364.8" x2="248.00" y2="360.30" stroke="#a3d3de" stroke-width="1.6"/>
<line x1="287.10" y1="364.8" x2="287.10" y2="362.80" stroke="#a3d3de" stroke-width="1.6"/>
<line x1="326.20" y1="364.8" x2="326.20" y2="360.30" stroke="#a3d3de" stroke-width="1.6"/>
<line x1="365.30" y1="364.8" x2="365.30" y2="362.80" stroke="#a3d3de" stroke-width="1.6"/>
<line x1="404.40" y1="364.8" x2="404.40" y2="360.30" stroke="#a3d3de" stroke-width="1.6"/>
<text transform="translate(141.5,349.60) rotate(-45)" text-anchor="end" font-size="19.5">0</text>
<text transform="translate(141.5,283.77) rotate(-45)" text-anchor="end" font-size="19.5">1500</text>
<text transform="translate(141.5,217.94) rotate(-45)" text-anchor="end" font-size="19.5">3000</text>
<text transform="translate(141.5,152.11) rotate(-45)" text-anchor="end" font-size="19.5">4500</text>
<text transform="translate(141.5,86.28) rotate(-45)" text-anchor="end" font-size="19.5">6000</text>
<text transform="translate(183.60,384) rotate(-45)" text-anchor="end" font-size="19.5">20</text>
<text transform="translate(261.80,384) rotate(-45)" text-anchor="end" font-size="19.5">22</text>
<text transform="translate(340.00,384) rotate(-45)" text-anchor="end" font-size="19.5">24</text>
<text transform="translate(418.20,384) rotate(-45)" text-anchor="end" font-size="19.5">26</text>
<path d="M189.8,120.6 L233.3,120.6" fill="none" stroke="#eda2a4" stroke-width="3.20" stroke-linejoin="miter" stroke-miterlimit="3"/><path d="M189.8,120.6 L233.3,120.6" fill="none" stroke="#f9eaea" stroke-width="1.20" stroke-linejoin="miter" stroke-miterlimit="3"/>
<line x1="191.3" y1="142.9" x2="231.8" y2="142.9" stroke="#6aa9d6" stroke-width="3.4" stroke-linecap="round"/>
<line x1="191.3" y1="165.7" x2="231.8" y2="165.7" stroke="#9dc468" stroke-width="3.4" stroke-linecap="round"/>
<line x1="191.3" y1="187.8" x2="231.8" y2="187.8" stroke="#cda7d9" stroke-width="3.4" stroke-linecap="round"/>
<polygon points="211.50,206.40 215.21,209.09 213.79,213.46 209.21,213.46 207.79,209.09" fill="none" stroke="#f0a02a" stroke-width="1.6"/>
<text x="237" y="126.8" font-size="18.7">COF 0.0</text>
<text x="237" y="149.3" font-size="18.7">COF 0.1</text>
<text x="237" y="171.9" font-size="18.7">COF 0.2</text>
<text x="237" y="194.4" font-size="18.7">COF 0.3</text>
<text x="237" y="217.0" font-size="18.7">Experiment</text>
<g stroke="#000" stroke-width="2" fill="none">
</g>
<text x="70.1" y="434.90" font-size="19.6" text-anchor="end">0</text>
<text x="70.1" y="369.07" font-size="19.6" text-anchor="end">1000</text>
<text x="70.1" y="303.24" font-size="19.6" text-anchor="end">2000</text>
<text x="70.1" y="237.41" font-size="19.6" text-anchor="end">3000</text>
<text x="70.1" y="171.58" font-size="19.6" text-anchor="end">4000</text>
<text x="70.1" y="105.75" font-size="19.6" text-anchor="end">5000</text>
<text x="70.1" y="39.92" font-size="19.6" text-anchor="end">6000</text>
<text x="79.40" y="486.3" font-size="19.6" text-anchor="middle">0</text>
<text x="178.70" y="486.3" font-size="19.6" text-anchor="middle">5</text>
<text x="278.00" y="486.3" font-size="19.6" text-anchor="middle">10</text>
<text x="377.30" y="486.3" font-size="19.6" text-anchor="middle">15</text>
<text x="476.60" y="486.3" font-size="19.6" text-anchor="middle">20</text>
<text x="575.90" y="486.3" font-size="19.6" text-anchor="middle">25</text>
<text x="675.20" y="486.3" font-size="19.6" text-anchor="middle">30</text>
<text x="377.5" y="516.2" font-size="23.7" text-anchor="middle">Displacement (mm)</text>
<text transform="translate(21.6,230) rotate(-90)" font-size="23.5" text-anchor="middle">Load (N)</text>
</svg></body></html>
